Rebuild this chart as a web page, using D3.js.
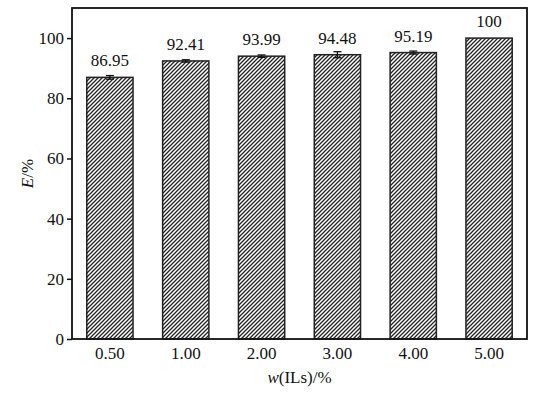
<!DOCTYPE html>
<html>
<head>
<meta charset="utf-8">
<script src="https://cdn.jsdelivr.net/npm/d3@7"></script>
<style>
  body { margin: 0; background: #fff; }
  text { font-family: "Liberation Serif", "Times New Roman", serif; fill: #111; }
</style>
</head>
<body>
<div id="chart"></div>
<script>
// Chart data.
const CATEGORIES = ['0.50', '1.00', '2.00', '3.00', '4.00', '5.00'];
const VALUES = [86.95, 92.41, 93.99, 94.48, 95.19, 100];
const ERRORS = [0.6, 0.4, 0.4, 1.0, 0.5, 0];
const LABELS = ['86.95', '92.41', '93.99', '94.48', '95.19', '100'];
const Y_TICKS = [0, 20, 40, 60, 80, 100];

const config = {
    width: 544,
    height: 395,
    margin: {top: 8, right: 17, bottom: 56, left: 72}
};

const svg = d3.select('#chart').append('svg')
    .attr('width', config.width)
    .attr('height', config.height);

const innerW = config.width - config.margin.left - config.margin.right;
const innerH = config.height - config.margin.top - config.margin.bottom;

// Hatch pattern for the bars.
const defs = svg.append('defs');
const pattern = defs.append('pattern')
    .attr('id', 'hatch')
    .attr('patternUnits', 'userSpaceOnUse')
    .attr('width', 4)
    .attr('height', 4);
pattern.append('rect').attr('width', 4).attr('height', 4).attr('fill', '#fff');
pattern.append('path')
    .attr('d', 'M-1,1 l2,-2 M0,4 l4,-4 M3,5 l2,-2')
    .attr('stroke', '#222')
    .attr('stroke-width', 1.3);

const chart = svg.append('g')
    .attr('transform', `translate(${config.margin.left},${config.margin.top})`);

const xScale = d3.scaleBand().domain(CATEGORIES).range([0, innerW]).paddingInner(0.39).paddingOuter(0.195);
const yScale = d3.scaleLinear().domain([0, 110]).range([innerH, 0]);

// Bars.
chart.selectAll('.bar')
    .data(VALUES)
    .join('rect')
    .attr('class', 'bar')
    .attr('x', (_, i) => xScale(CATEGORIES[i]))
    .attr('y', d => yScale(d))
    .attr('width', xScale.bandwidth())
    .attr('height', d => innerH - yScale(d))
    .attr('fill', 'url(#hatch)')
    .attr('stroke', '#222')
    .attr('stroke-width', 1.5);

// Error bars.
const errG = chart.selectAll('.err')
    .data(VALUES.map((v, i) => ({v, e: ERRORS[i], c: CATEGORIES[i]})).filter(d => d.e > 0))
    .join('g')
    .attr('class', 'err')
    .attr('transform', d => `translate(${xScale(d.c) + xScale.bandwidth() / 2},0)`)
    .attr('stroke', '#111')
    .attr('stroke-width', 1.3);
errG.append('line')
    .attr('y1', d => yScale(d.v - d.e)).attr('y2', d => yScale(d.v + d.e));
errG.append('line')
    .attr('x1', -4).attr('x2', 4)
    .attr('y1', d => yScale(d.v + d.e)).attr('y2', d => yScale(d.v + d.e));
errG.append('line')
    .attr('x1', -4).attr('x2', 4)
    .attr('y1', d => yScale(d.v - d.e)).attr('y2', d => yScale(d.v - d.e));

// Value labels above bars.
chart.selectAll('.val')
    .data(LABELS)
    .join('text')
    .attr('class', 'val')
    .attr('x', (_, i) => xScale(CATEGORIES[i]) + xScale.bandwidth() / 2)
    .attr('y', (_, i) => yScale(VALUES[i]) - 11)
    .attr('text-anchor', 'middle')
    .style('font-size', '17px')
    .text(d => d);

// Axes.
const xAxis = d3.axisBottom(xScale).tickSize(0).tickPadding(8);
const yAxis = d3.axisLeft(yScale).tickValues(Y_TICKS).tickSize(5).tickPadding(3);

chart.append('g')
    .attr('transform', `translate(0,${innerH})`)
    .call(xAxis)
    .call(g => g.select('.domain').remove())
    .call(g => g.selectAll('text').style('font-size', '17px').attr('fill', '#111'));

chart.append('g')
    .call(yAxis)
    .call(g => g.select('.domain').remove())
    .call(g => g.selectAll('line').attr('stroke', '#111').attr('stroke-width', 1.5))
    .call(g => g.selectAll('text').style('font-size', '17px').attr('fill', '#111'));

// Frame.
chart.append('rect')
    .attr('width', innerW)
    .attr('height', innerH)
    .attr('fill', 'none')
    .attr('stroke', '#111')
    .attr('stroke-width', 1.8);

// Axis titles.
const xTitle = svg.append('text')
    .attr('x', config.margin.left + innerW / 2)
    .attr('y', 383)
    .attr('text-anchor', 'middle')
    .style('font-size', '17px');
xTitle.append('tspan').style('font-style', 'italic').text('w');
xTitle.append('tspan').text('(ILs)/%');

const yTitle = svg.append('text')
    .attr('transform', `translate(33,${config.margin.top + innerH / 2}) rotate(-90)`)
    .attr('text-anchor', 'middle')
    .style('font-size', '17px');
yTitle.append('tspan').style('font-style', 'italic').text('E');
yTitle.append('tspan').text('/%');
</script>
</body>
</html>
